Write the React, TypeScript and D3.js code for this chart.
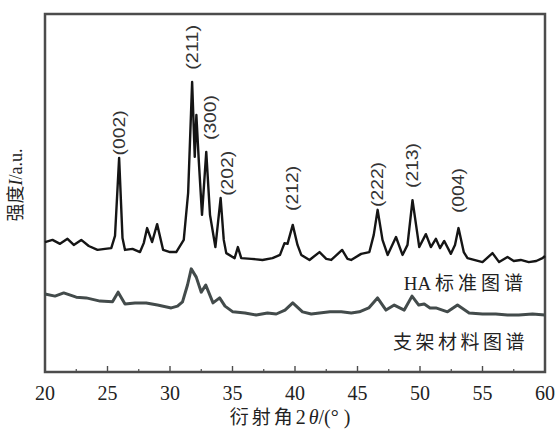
import React from 'react';
import * as d3 from 'd3';

// HA standard pattern (upper trace)
const haTheta = [20.0, 20.6, 21.2, 21.8, 22.3, 22.9, 23.5, 24.2, 24.8, 25.3, 25.6, 25.93, 26.2, 26.4, 27.0, 27.6, 27.9, 28.17, 28.57, 28.97, 29.45, 30.0, 30.5, 31.1, 31.45, 31.77, 31.98, 32.11, 32.3, 32.56, 32.9, 33.2, 33.63, 34.05, 34.3, 34.5, 35.17, 35.43, 35.7, 36.5, 37.4, 38.2, 38.8, 39.16, 39.4, 39.82, 40.2, 40.5, 41.16, 41.96, 42.5, 42.9, 43.77, 44.2, 44.49, 45.29, 45.95, 46.3, 46.61, 47.0, 47.41, 48.08, 48.6, 49.0, 49.4, 49.94, 50.47, 50.87, 51.27, 51.6, 51.94, 52.47, 52.8, 53.08, 53.5, 53.8, 55.0, 55.8, 56.33, 57.0, 57.5, 58.06, 58.7, 59.3, 59.8, 60.0];
const haIntensity = [36.3, 36.9, 35.8, 37.2, 35.5, 36.9, 35.2, 34.1, 34.4, 34.6, 38.0, 59.8, 37.4, 34.1, 34.4, 33.5, 36.0, 40.2, 36.3, 41.3, 34.1, 33.5, 33.5, 36.9, 50.0, 81.0, 60.1, 71.8, 59.2, 43.9, 61.5, 43.9, 34.9, 48.6, 36.9, 33.2, 31.8, 34.9, 31.8, 31.6, 31.3, 31.8, 32.7, 36.0, 35.8, 41.1, 35.5, 32.7, 31.3, 33.5, 31.6, 31.3, 34.1, 31.6, 31.3, 33.0, 33.5, 38.3, 45.3, 36.9, 32.7, 37.7, 32.7, 35.5, 48.0, 34.9, 38.5, 34.9, 37.2, 34.6, 36.6, 33.0, 35.5, 40.2, 33.5, 31.8, 30.7, 33.2, 30.7, 32.1, 31.0, 31.3, 30.7, 31.0, 31.8, 32.4];

// scaffold material pattern (lower trace)
const scTheta = [20.0, 20.8, 21.5, 22.5, 23.3, 24.4, 25.4, 25.85, 26.4, 27.2, 28.1, 29.0, 30.1, 30.6, 31.0, 31.4, 31.7, 32.1, 32.5, 32.86, 33.44, 33.97, 34.4, 35.03, 36.0, 36.9, 37.8, 38.5, 39.2, 39.82, 40.6, 41.3, 41.96, 42.8, 43.7, 44.5, 45.15, 45.9, 46.6, 47.28, 47.94, 48.74, 49.36, 49.9, 50.34, 50.8, 51.27, 52.2, 53.0, 53.93, 55.0, 56.06, 57.0, 57.9, 59.0, 60.0];
const scIntensity = [21.8, 21.2, 22.1, 20.9, 20.7, 19.8, 19.6, 22.3, 19.0, 19.3, 19.3, 18.7, 17.9, 18.4, 19.6, 24.3, 28.8, 26.5, 22.3, 24.3, 19.3, 20.7, 18.4, 16.8, 16.5, 15.9, 16.5, 16.2, 17.3, 19.3, 16.8, 16.2, 16.5, 16.8, 16.8, 16.5, 16.8, 17.9, 20.7, 17.3, 18.7, 17.3, 21.2, 18.7, 19.0, 17.9, 17.9, 16.8, 18.7, 16.5, 16.2, 16.2, 15.9, 15.9, 16.2, 15.9];

// peak labels
const peakLabels = ['(002)', '(211)', '(300)', '(202)', '(212)', '(222)', '(213)', '(004)'];
const peakTheta = [25.93, 31.77, 33.2, 34.6, 39.8, 46.6, 49.4, 53.1];
const peakLabelLevel = [60.5, 84.4, 64.8, 49.2, 45.0, 46.1, 51.4, 44.4];

const xTicks = [20, 25, 30, 35, 40, 45, 50, 55, 60];
const xMinorTicks = [22.5, 27.5, 32.5, 37.5, 42.5, 47.5, 52.5, 57.5];

const W = 559;
const H = 430;
const L = 45, R = 545, T = 14, B = 372;

const serif = '"Liberation Serif", "DejaVu Serif", serif';
const cjk = '"Noto Sans CJK SC", sans-serif';
const sans = '"Liberation Sans", Arial, sans-serif';
const frameColor = '#4c4c4c';

export default function App() {
  const x = d3.scaleLinear().domain([20, 60]).range([L, R]);
  const y = d3.scaleLinear().domain([0, 100]).range([B, T]);

  const line = d3.line<[number, number]>()
    .x((d) => x(d[0]))
    .y((d) => y(d[1]));

  const haPts = haTheta.map((t, i) => [t, haIntensity[i]] as [number, number]);
  const scPts = scTheta.map((t, i) => [t, scIntensity[i]] as [number, number]);

  return (
    <svg width={W} height={H} style={{ position: 'absolute', left: 0, top: 0, background: '#fff' }}>
      {/* frame */}
      <rect x={L} y={T} width={R - L} height={B - T} fill="#fff" stroke={frameColor} strokeWidth={2.5} />

      <path d={line(scPts) || ''} fill="none" stroke="#434b4b" strokeWidth={3} strokeLinejoin="round" />
      <path d={line(haPts) || ''} fill="none" stroke="#151515" strokeWidth={2.4} strokeLinejoin="round" />

      {/* ticks */}
      {xTicks.map((t) => (
        <g key={'t' + t}>
          <line x1={x(t)} x2={x(t)} y1={B} y2={B - 6} stroke={frameColor} strokeWidth={1.4} />
          <text x={x(t)} y={400} textAnchor="middle" fontFamily={serif} fontSize={20} fill="#222">{t}</text>
        </g>
      ))}
      {xMinorTicks.map((t) => (
        <line key={'m' + t} x1={x(t)} x2={x(t)} y1={B} y2={B - 3} stroke={frameColor} strokeWidth={1.2} />
      ))}

      {/* peak labels */}
      {peakLabels.map((lab, i) => {
        const px = x(peakTheta[i]);
        const py = y(peakLabelLevel[i]);
        return (
          <text key={lab} transform={`translate(${px},${py}) rotate(-90)`} dominantBaseline="central"
            fontFamily={sans} fontSize={16} textLength={45} lengthAdjust="spacingAndGlyphs" fill="#333">
            {lab}
          </text>
        );
      })}

      {/* curve names */}
      <text x={527} y={290} textAnchor="end" fill="#222" fontSize={19}>
        <tspan fontFamily={serif}>HA </tspan>
        <tspan fontFamily={cjk} letterSpacing={4}>标准图谱</tspan>
      </text>
      <text x={528} y={349} textAnchor="end" fill="#222" fontSize={19} fontFamily={cjk} letterSpacing={3.5}>
        支架材料图谱
      </text>

      {/* axis titles */}
      <text x={290} y={424} textAnchor="middle" fill="#222" fontSize={19}>
        <tspan fontFamily={cjk} letterSpacing={3}>衍射角</tspan>
        <tspan fontFamily={serif} fontSize={20}>2</tspan>
        <tspan fontFamily={serif} fontSize={20} fontStyle="italic" dx={3}>θ</tspan>
        <tspan fontFamily={serif} fontSize={20}>/(° )</tspan>
      </text>
      <text transform="translate(22,185) rotate(-90)" textAnchor="middle" fill="#222" fontSize={18}>
        <tspan fontFamily={cjk}>强度</tspan>
        <tspan fontFamily={serif} fontStyle="italic">I</tspan>
        <tspan fontFamily={serif}>/a.u.</tspan>
      </text>
    </svg>
  );
}
